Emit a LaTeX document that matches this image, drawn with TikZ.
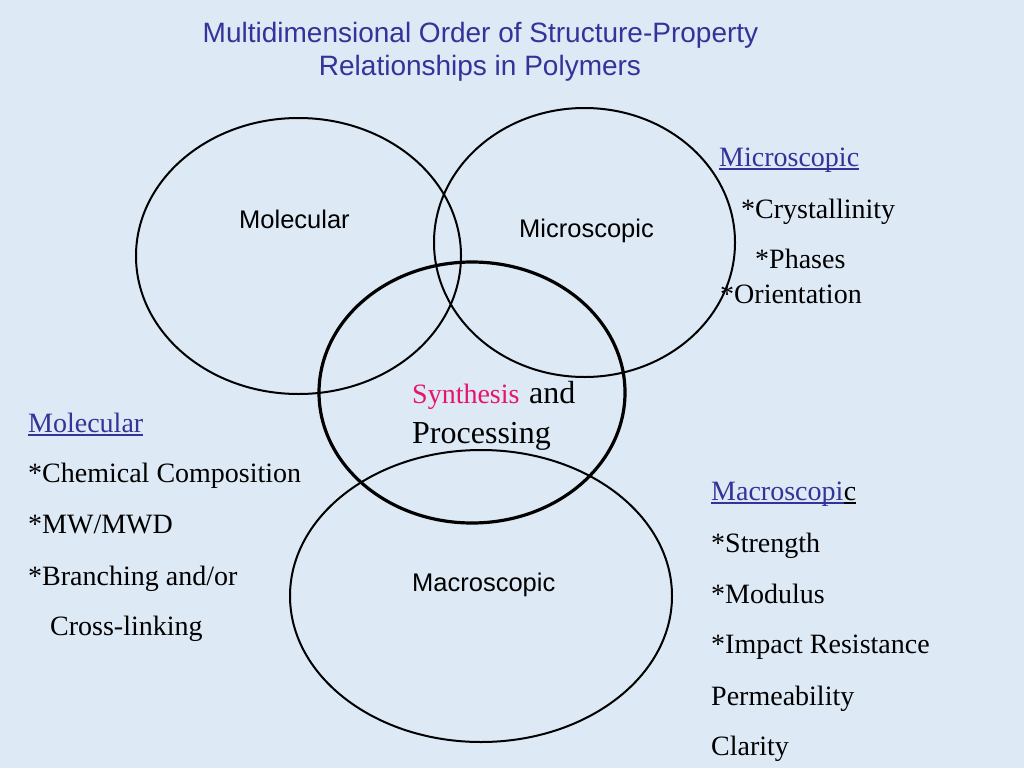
\documentclass[tikz,border=0pt]{standalone}
\usepackage{fontspec}
\setmainfont{Liberation Serif}
\newfontfamily\arialf{Liberation Sans}
\usetikzlibrary{shapes.geometric}
\definecolor{bgblue}{RGB}{221,233,245}
\definecolor{titleblue}{RGB}{51,51,153}
\definecolor{synpink}{RGB}{230,20,110}
\tikzset{
  ring/.style={ellipse, draw=black, line width=2pt, inner sep=0pt},
  ringbold/.style={ellipse, draw=black, line width=3.2pt, inner sep=0pt},
  lab/.style={font=\arialf\fontsize{25.5}{30}\selectfont, inner sep=0pt, anchor=base west},
  ttl/.style={font=\arialf\fontsize{28}{33}\selectfont, text=titleblue, inner sep=0pt, anchor=base},
  item/.style={font=\fontsize{28}{33}\selectfont, inner sep=0pt, anchor=base west},
  head/.style={item, text=titleblue},
  uline/.style={line width=1.2pt}
}
\begin{document}
\begin{tikzpicture}[x=1pt,y=-1pt]
\fill[bgblue] (0,0) rectangle (1024,768);
\useasboundingbox (0,0) rectangle (1024,768);
% title
\node[ttl] (t1) at (480.5,42) {Multidimensional Order of Structure-Property};
\node[ttl] (t2) at (480,75) {Relationships in Polymers};
% circles
\node[ring, minimum width=325pt, minimum height=276pt] (mol) at (298.5,256) {};
\node[ring, minimum width=301pt, minimum height=269pt] (mic) at (584.5,242.5) {};
\node[ring, minimum width=382pt, minimum height=292pt] (mac) at (481,596) {};
\node[ringbold, minimum width=306pt, minimum height=261pt] (syn) at (472,392.5) {};
% circle labels
\node[lab] (lmol) at (239,228) {Molecular};
\node[lab] (lmic) at (519,237) {Microscopic};
\node[lab] (lmac) at (412,591) {Macroscopic};
% synthesis
\node[item, text=synpink] (syn1) at (412,403) {Synthesis};
\node[item, font=\fontsize{32}{38}\selectfont] (syn2) at (529,403) {and};
\node[item, font=\fontsize{32}{38}\selectfont] (syn3) at (412,443) {Processing};
% microscopic list
\node[head] (hmic) at (719,166) {Microscopic};
\draw[uline, titleblue] ([yshift=-3pt]hmic.base west) -- ([yshift=-3pt]hmic.base east);
\node[item] (mic1) at (741,218) {*Crystallinity};
\node[item] (mic2) at (755,268) {*Phases};
\node[item] (mic3) at (720,303) {*Orientation};
% molecular list
\node[head] (hmol) at (28,432) {Molecular};
\draw[uline, titleblue] ([yshift=-3pt]hmol.base west) -- ([yshift=-3pt]hmol.base east);
\node[item] (mol1) at (28,482) {*Chemical Composition};
\node[item] (mol2) at (28,533) {*MW/MWD};
\node[item] (mol3) at (28,585) {*Branching and/or};
\node[item] (mol4) at (50,635) {Cross-linking};
% macroscopic list
\node[head] (hmac) at (711,500) {Macroscopi};
\node[item] (hmacc) at (hmac.base east) {c};
\draw[uline, titleblue] ([yshift=-3pt]hmac.base west) -- ([yshift=-3pt]hmac.base east);
\draw[uline, black] ([yshift=-3pt]hmacc.base west) -- ([yshift=-3pt]hmacc.base east);
\node[item] (mac1) at (711,552) {*Strength};
\node[item] (mac2) at (711,603) {*Modulus};
\node[item] (mac3) at (711,653) {*Impact Resistance};
\node[item] (mac4) at (711,705) {Permeability};
\node[item] (mac5) at (711,755) {Clarity};
\end{tikzpicture}
\end{document}
